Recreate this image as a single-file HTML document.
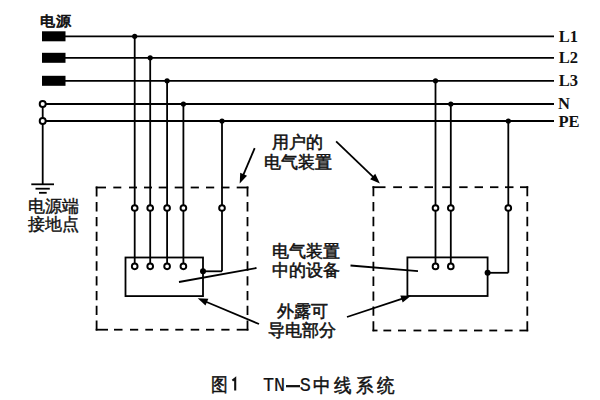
<!DOCTYPE html>
<html><head><meta charset="utf-8">
<style>
html,body{margin:0;padding:0;background:#fff;width:600px;height:400px;overflow:hidden}
#wrap{position:relative;width:600px;height:400px}
svg{position:absolute;left:0;top:0}
.t{position:absolute;font-family:"Liberation Serif",serif;color:#111;white-space:nowrap;line-height:1}
.zh{font-size:17px;font-weight:normal;-webkit-text-stroke:0.55px #111}
.lab{font-size:16px;font-weight:bold}
</style></head><body><div id="wrap">
<svg width="600" height="400" viewBox="0 0 600 400" stroke="#000" stroke-linecap="butt">
<rect x="42" y="31.299999999999997" width="23.5" height="10" fill="#000" stroke="none"/>
<line x1="65" y1="36.3" x2="554" y2="36.3" stroke-width="1.8"/>
<rect x="42" y="52.8" width="23.5" height="10" fill="#000" stroke="none"/>
<line x1="65" y1="57.8" x2="554" y2="57.8" stroke-width="1.8"/>
<rect x="42" y="75.8" width="23.5" height="10" fill="#000" stroke="none"/>
<line x1="65" y1="80.8" x2="554" y2="80.8" stroke-width="1.8"/>
<line x1="42.7" y1="104" x2="554" y2="104" stroke-width="1.8"/>
<line x1="42.7" y1="121" x2="554" y2="121" stroke-width="1.8"/>
<line x1="42.7" y1="104" x2="42.7" y2="184.3" stroke-width="1.8"/>
<line x1="31.3" y1="184.3" x2="54" y2="184.3" stroke-width="1.8"/>
<line x1="35.5" y1="188.7" x2="49.8" y2="188.7" stroke-width="1.8"/>
<line x1="39" y1="192.8" x2="46.7" y2="192.8" stroke-width="1.8"/>
<line x1="134.7" y1="36.3" x2="134.7" y2="266.3" stroke-width="1.8"/>
<line x1="150.2" y1="57.8" x2="150.2" y2="266.3" stroke-width="1.8"/>
<line x1="167.1" y1="80.8" x2="167.1" y2="266.3" stroke-width="1.8"/>
<line x1="183.4" y1="104" x2="183.4" y2="266.3" stroke-width="1.8"/>
<line x1="222" y1="121" x2="222" y2="271.3" stroke-width="1.8"/>
<line x1="203" y1="271.3" x2="222" y2="271.3" stroke-width="1.8"/>
<line x1="435.5" y1="80.8" x2="435.5" y2="266.4" stroke-width="1.8"/>
<line x1="450.8" y1="104" x2="450.8" y2="266.4" stroke-width="1.8"/>
<line x1="508.3" y1="121" x2="508.3" y2="272.8" stroke-width="1.8"/>
<line x1="487.6" y1="272.8" x2="508.3" y2="272.8" stroke-width="1.8"/>
<line x1="96.60" y1="186.60" x2="96.60" y2="330.60" stroke-width="1.8" stroke-dasharray="10.00 5.51 9.30 5.51 9.30 5.51 9.30 5.51 9.30 5.51 9.30 5.51 9.30 5.51 9.30 5.51 9.30 5.51 10.00 100.00"/>
<line x1="247.50" y1="186.60" x2="247.50" y2="330.60" stroke-width="1.8" stroke-dasharray="10.00 5.51 9.30 5.51 9.30 5.51 9.30 5.51 9.30 5.51 9.30 5.51 9.30 5.51 9.30 5.51 9.30 5.51 10.00 100.00"/>
<line x1="95.7" y1="187.5" x2="106" y2="187.5" stroke-width="1.8"/>
<line x1="113.3" y1="187.5" x2="121.3" y2="187.5" stroke-width="1.8"/>
<line x1="129" y1="187.5" x2="137" y2="187.5" stroke-width="1.8"/>
<line x1="144" y1="187.5" x2="152" y2="187.5" stroke-width="1.8"/>
<line x1="158.7" y1="187.5" x2="166.9" y2="187.5" stroke-width="1.8"/>
<line x1="174.7" y1="187.5" x2="182.9" y2="187.5" stroke-width="1.8"/>
<line x1="190.7" y1="187.5" x2="198.9" y2="187.5" stroke-width="1.8"/>
<line x1="206" y1="187.5" x2="214.2" y2="187.5" stroke-width="1.8"/>
<line x1="221.5" y1="187.5" x2="229.5" y2="187.5" stroke-width="1.8"/>
<line x1="236.7" y1="187.5" x2="248.4" y2="187.5" stroke-width="1.8"/>
<line x1="95.7" y1="329.7" x2="108" y2="329.7" stroke-width="1.8"/>
<line x1="114" y1="329.7" x2="122.5" y2="329.7" stroke-width="1.8"/>
<line x1="130" y1="329.7" x2="138.2" y2="329.7" stroke-width="1.8"/>
<line x1="145.3" y1="329.7" x2="153" y2="329.7" stroke-width="1.8"/>
<line x1="160" y1="329.7" x2="168.5" y2="329.7" stroke-width="1.8"/>
<line x1="175.3" y1="329.7" x2="183.3" y2="329.7" stroke-width="1.8"/>
<line x1="190.7" y1="329.7" x2="199.2" y2="329.7" stroke-width="1.8"/>
<line x1="206" y1="329.7" x2="214.2" y2="329.7" stroke-width="1.8"/>
<line x1="221.3" y1="329.7" x2="229.5" y2="329.7" stroke-width="1.8"/>
<line x1="236.7" y1="329.7" x2="248.4" y2="329.7" stroke-width="1.8"/>
<line x1="373.40" y1="186.30" x2="373.40" y2="331.40" stroke-width="1.8" stroke-dasharray="10.00 5.63 9.30 5.63 9.30 5.63 9.30 5.63 9.30 5.63 9.30 5.63 9.30 5.63 9.30 5.63 9.30 5.63 10.00 100.00"/>
<line x1="527.30" y1="186.30" x2="527.30" y2="331.40" stroke-width="1.8" stroke-dasharray="10.00 5.63 9.30 5.63 9.30 5.63 9.30 5.63 9.30 5.63 9.30 5.63 9.30 5.63 9.30 5.63 9.30 5.63 10.00 100.00"/>
<line x1="372.5" y1="187.2" x2="385.5" y2="187.2" stroke-width="1.8"/>
<line x1="393.2" y1="187.2" x2="402" y2="187.2" stroke-width="1.8"/>
<line x1="409.3" y1="187.2" x2="417.7" y2="187.2" stroke-width="1.8"/>
<line x1="424.5" y1="187.2" x2="433" y2="187.2" stroke-width="1.8"/>
<line x1="442.2" y1="187.2" x2="450.8" y2="187.2" stroke-width="1.8"/>
<line x1="459.2" y1="187.2" x2="467.6" y2="187.2" stroke-width="1.8"/>
<line x1="474.6" y1="187.2" x2="483" y2="187.2" stroke-width="1.8"/>
<line x1="490" y1="187.2" x2="498.4" y2="187.2" stroke-width="1.8"/>
<line x1="505" y1="187.2" x2="513.5" y2="187.2" stroke-width="1.8"/>
<line x1="520" y1="187.2" x2="528.2" y2="187.2" stroke-width="1.8"/>
<line x1="372.5" y1="330.5" x2="377.5" y2="330.5" stroke-width="1.8"/>
<line x1="383.4" y1="330.5" x2="391.2" y2="330.5" stroke-width="1.8"/>
<line x1="398" y1="330.5" x2="406" y2="330.5" stroke-width="1.8"/>
<line x1="413.5" y1="330.5" x2="421.3" y2="330.5" stroke-width="1.8"/>
<line x1="428.2" y1="330.5" x2="436.6" y2="330.5" stroke-width="1.8"/>
<line x1="443.6" y1="330.5" x2="452.2" y2="330.5" stroke-width="1.8"/>
<line x1="459.2" y1="330.5" x2="467.2" y2="330.5" stroke-width="1.8"/>
<line x1="474" y1="330.5" x2="482.3" y2="330.5" stroke-width="1.8"/>
<line x1="489.3" y1="330.5" x2="497.2" y2="330.5" stroke-width="1.8"/>
<line x1="504.7" y1="330.5" x2="512.6" y2="330.5" stroke-width="1.8"/>
<line x1="519.4" y1="330.5" x2="528.2" y2="330.5" stroke-width="1.8"/>
<rect x="125.5" y="257.5" width="77.5" height="38.6" fill="none" stroke-width="1.8"/>
<rect x="407.4" y="257.4" width="80.2" height="38.6" fill="none" stroke-width="1.8"/>
<circle cx="134.7" cy="36.3" r="2.6" fill="#000" stroke="none"/>
<circle cx="150.2" cy="57.8" r="2.6" fill="#000" stroke="none"/>
<circle cx="167.1" cy="80.8" r="2.6" fill="#000" stroke="none"/>
<circle cx="183.4" cy="104" r="2.6" fill="#000" stroke="none"/>
<circle cx="222" cy="121" r="2.6" fill="#000" stroke="none"/>
<circle cx="435.5" cy="80.8" r="2.6" fill="#000" stroke="none"/>
<circle cx="450.8" cy="104" r="2.6" fill="#000" stroke="none"/>
<circle cx="508.3" cy="121" r="2.6" fill="#000" stroke="none"/>
<circle cx="203" cy="271.3" r="3" fill="#000" stroke="none"/>
<circle cx="487.6" cy="272.8" r="3" fill="#000" stroke="none"/>
<circle cx="42.7" cy="104" r="3" fill="#fff" stroke-width="1.95"/>
<circle cx="42.7" cy="121" r="3" fill="#fff" stroke-width="1.95"/>
<circle cx="134.7" cy="208" r="2.85" fill="#fff" stroke-width="1.95"/>
<circle cx="150.2" cy="208" r="2.85" fill="#fff" stroke-width="1.95"/>
<circle cx="167.1" cy="208" r="2.85" fill="#fff" stroke-width="1.95"/>
<circle cx="183.4" cy="208" r="2.85" fill="#fff" stroke-width="1.95"/>
<circle cx="222" cy="208" r="2.85" fill="#fff" stroke-width="1.95"/>
<circle cx="134.7" cy="266.3" r="2.85" fill="#fff" stroke-width="1.95"/>
<circle cx="150.2" cy="266.3" r="2.85" fill="#fff" stroke-width="1.95"/>
<circle cx="167.1" cy="266.3" r="2.85" fill="#fff" stroke-width="1.95"/>
<circle cx="183.4" cy="266.3" r="2.85" fill="#fff" stroke-width="1.95"/>
<circle cx="435.5" cy="208" r="2.85" fill="#fff" stroke-width="1.95"/>
<circle cx="450.8" cy="208" r="2.85" fill="#fff" stroke-width="1.95"/>
<circle cx="508.3" cy="208" r="2.85" fill="#fff" stroke-width="1.95"/>
<circle cx="435.5" cy="266.4" r="2.85" fill="#fff" stroke-width="1.95"/>
<circle cx="450.8" cy="266.4" r="2.85" fill="#fff" stroke-width="1.95"/>
<line x1="179" y1="282" x2="256.5" y2="268" stroke-width="1.8"/>
<line x1="350.5" y1="265.5" x2="418" y2="271.2" stroke-width="1.8"/>
<line x1="259" y1="324" x2="206.00006094456805" y2="301.77979716599344" stroke-width="1.8"/>
<path d="M197.70 298.30L208.35 298.75L205.49 305.58Z" fill="#000" stroke="none"/>
<line x1="347" y1="317" x2="402.4565256732959" y2="298.6300258707207" stroke-width="1.8"/>
<path d="M411.00 295.80L402.67 302.46L400.34 295.43Z" fill="#000" stroke="none"/>
<line x1="254.7" y1="148.2" x2="243.2197688774505" y2="175.21681057506646" stroke-width="1.8"/>
<path d="M239.70 183.50L240.21 172.85L247.02 175.74Z" fill="#000" stroke="none"/>
<line x1="336.1" y1="141.4" x2="373.40395865674725" y2="177.17091925989467" stroke-width="1.8"/>
<path d="M379.90 183.40L370.12 179.15L375.24 173.81Z" fill="#000" stroke="none"/>
<path d="M232.4 380.6L235.2 378.4L235.2 390.6" fill="none" stroke="#111" stroke-width="2.1"/>
</svg>
<div class="t zh" style="left:39.5px;top:14px;font-size:16px;-webkit-text-stroke:0.8px #111;transform:scale(0.97,0.9);transform-origin:0 0">电源</div>
<div class="t zh" style="left:28px;top:198.5px;font-size:16.5px;font-weight:normal;-webkit-text-stroke:0.4px #111">电源端</div>
<div class="t zh" style="left:28px;top:217px;font-size:16.5px;font-weight:normal;-webkit-text-stroke:0.4px #111">接地点</div>
<div class="t zh" style="left:272px;top:134px">用户的</div>
<div class="t zh" style="left:264px;top:153.5px">电气装置</div>
<div class="t zh" style="left:271.5px;top:243px">电气装置</div>
<div class="t zh" style="left:271.5px;top:261.8px">中的设备</div>
<div class="t zh" style="left:277px;top:302.5px">外露可</div>
<div class="t zh" style="left:268px;top:322px">导电部分</div>
<div class="t lab" style="left:558.7px;top:28.7px;font-size:16.5px">L<span style="margin-left:0px">1</span></div>
<div class="t lab" style="left:558.7px;top:50.2px;font-size:16.5px">L<span style="margin-left:0px">2</span></div>
<div class="t lab" style="left:558.7px;top:73.2px;font-size:16.5px">L<span style="margin-left:0px">3</span></div>
<div class="t lab" style="left:558px;top:95.6px;font-size:16.5px">N</div>
<div class="t lab" style="left:558.5px;top:114px;font-size:16.5px">PE</div>
<div class="t" style="left:211px;top:376px;font-size:17px;font-weight:normal;-webkit-text-stroke:0.45px #111;font-family:'Liberation Sans',sans-serif;transform:scale(0.97,1.1);transform-origin:0 0">图</div>
<div class="t" style="left:263px;top:376px;font-size:18.5px;font-family:'Liberation Mono',monospace;-webkit-text-stroke:0.2px #111;transform:scaleY(1.13);transform-origin:0 0">TN<span style="display:inline-block;width:14px;height:1.3px;background:#111;vertical-align:middle;margin:0 0 0 0.5px;position:relative;top:1px"></span>S</div>
<div class="t" style="left:313px;top:376px;font-size:18px;letter-spacing:3.3px;font-weight:normal;-webkit-text-stroke:0.45px #111;font-family:'Liberation Sans',sans-serif;transform:scaleY(1.08);transform-origin:0 0">中线系统</div>
</div></body></html>
